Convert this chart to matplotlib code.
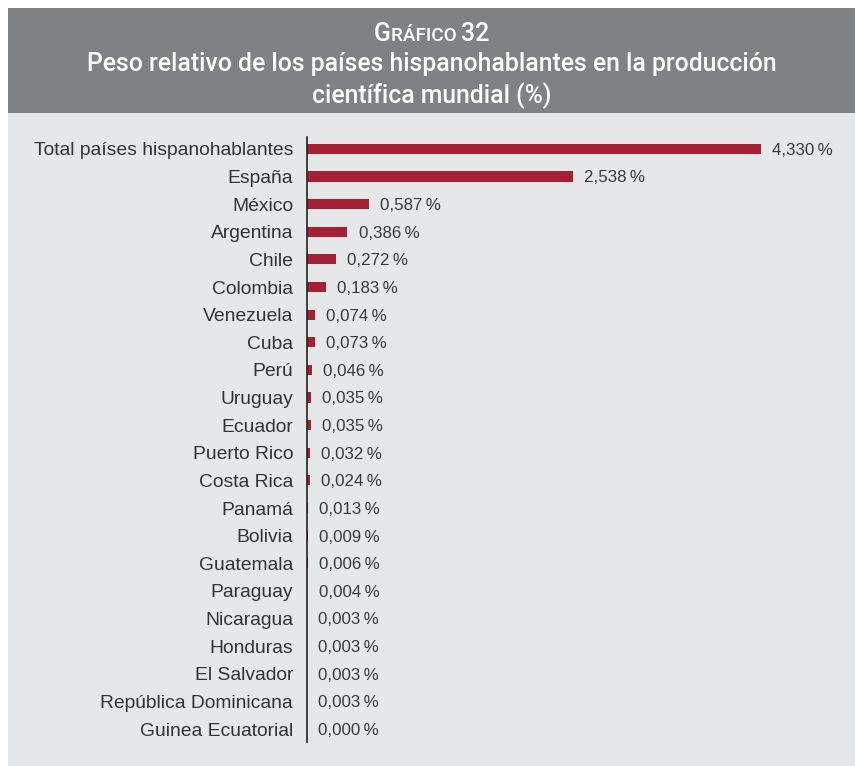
import matplotlib.pyplot as plt
from matplotlib.patches import Rectangle

paises = ["Total países hispanohablantes", "España", "México", "Argentina", "Chile",
          "Colombia", "Venezuela", "Cuba", "Perú", "Uruguay", "Ecuador", "Puerto Rico",
          "Costa Rica", "Panamá", "Bolivia", "Guatemala", "Paraguay", "Nicaragua",
          "Honduras", "El Salvador", "República Dominicana", "Guinea Ecuatorial"]
peso = [4.330, 2.538, 0.587, 0.386, 0.272, 0.183, 0.074, 0.073, 0.046, 0.035, 0.035,
        0.032, 0.024, 0.013, 0.009, 0.006, 0.004, 0.003, 0.003, 0.003, 0.003, 0.000]

W, H = 855, 766
fig = plt.figure(figsize=(W / 100, H / 100), dpi=100)
fig.patch.set_facecolor("white")

# fondo del cuerpo y cabecera
fig.add_artist(Rectangle((8 / W, 0), 1, 1 - 113 / H, transform=fig.transFigure,
                         facecolor="#e6e7e8", edgecolor="none", zorder=0))
fig.add_artist(Rectangle((8 / W, 1 - 113 / H), 1, 105 / H, transform=fig.transFigure,
                         facecolor="#808184", edgecolor="none", zorder=0))

fuente = "Liberation Sans"
fuente_tit = ["Roboto", "Liberation Sans"]
cx = (8 + W) / 2 / W

# título en versalitas, centrado a mano
renderer = fig.canvas.get_renderer()
titulo = [("G", 17.8), ("RÁFICO ", 13.6), ("32", 17.8)]
anchos = []
objs = []
for s, fs in titulo:
    o = fig.text(0, 1 - 41 / H, s, ha="left", va="baseline", color="white",
                 fontsize=fs, family=fuente_tit, fontweight="medium")
    anchos.append(o.get_window_extent(renderer).width)
    objs.append(o)
x0 = cx * W - sum(anchos) / 2
for o, w in zip(objs, anchos):
    o.set_position((x0 / W, 1 - 41 / H))
    x0 += w
fig.text(cx, 1 - 64 / H, "Peso relativo de los países hispanohablantes en la producción",
         ha="center", va="center", color="white", fontsize=17.8, fontweight="medium",
         family=fuente_tit)
fig.text(cx, 1 - 96 / H, "científica mundial (%)", ha="center", va="center",
         color="white", fontsize=17.8, fontweight="medium", family=fuente_tit)

ax = fig.add_axes([307 / W, 1 - 742 / H, 524 / W, 605 / H])
ax.set_facecolor("none")
y = list(range(len(paises)))
ax.barh(y, peso, height=0.37, color="#a51f35")
ax.set_xlim(0, 5)
ax.set_ylim(21.47, -0.43)
ax.set_yticks(y)
ax.set_yticklabels(paises, fontsize=13.9, color="#333333", family=fuente)
ax.tick_params(axis="y", length=0, pad=10)
ax.set_xticks([])
for s in ["top", "right", "bottom"]:
    ax.spines[s].set_visible(False)
ax.spines["left"].set_color("#222222")
ax.spines["left"].set_linewidth(1.2)

for yi, v in zip(y, peso):
    etiqueta = f"{v:.3f}".replace(".", ",") + "\u2009%"
    ax.annotate(etiqueta, (v, yi), xytext=(8, -1), textcoords="offset points",
                ha="left", va="center", fontsize=12.2, color="#3a3a3a", family=fuente)

fig.savefig("out.png", dpi=100, facecolor=fig.get_facecolor())
